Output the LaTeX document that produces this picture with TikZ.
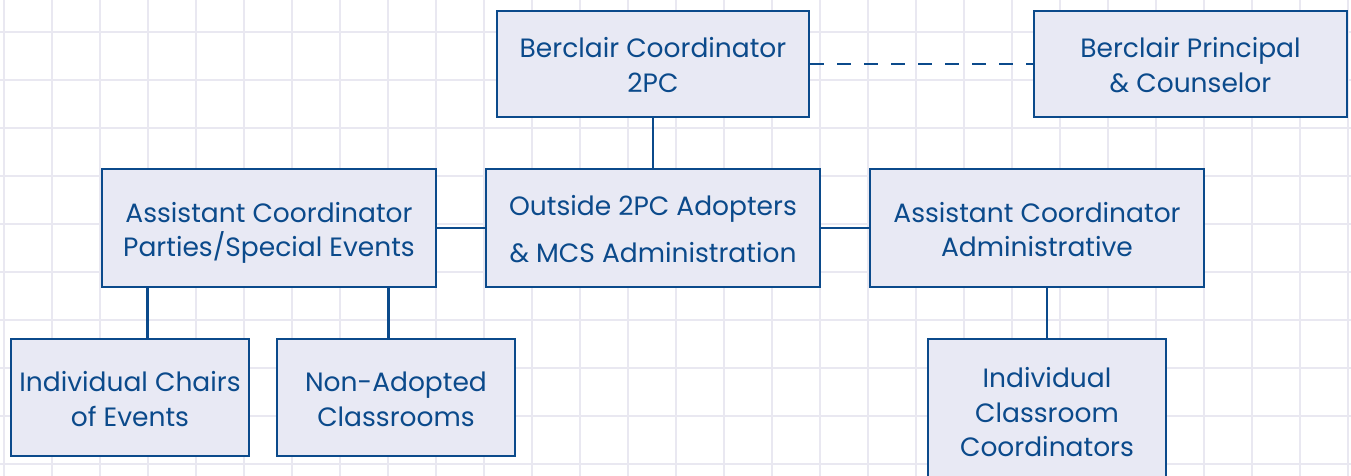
\documentclass[tikz,border=0pt]{standalone}
\usepackage{fontspec}
\setmainfont{Poppins}
\definecolor{navy}{HTML}{0B4A8B}
\definecolor{boxfill}{HTML}{E8E9F4}
\definecolor{gridgray}{HTML}{E9E8F1}
\newcommand{\rs}{\rule[-7pt]{0pt}{36.5pt}}
\newcommand{\rolefont}[1]{\fontsize{26.5}{#1}\selectfont\lineskiplimit=-50pt\relax}

\begin{document}
\begin{tikzpicture}[x=1pt, y=-1pt,
    role/.style={draw=navy, fill=boxfill, line width=2.6pt, text=navy, align=center,
        inner sep=0pt, font={\rolefont{34.5}}},
    link/.style={draw=navy, line width=2.6pt},
    gridline/.style={draw=gridgray, line width=2pt}]
    \useasboundingbox (0,0) rectangle (1351,476);
    \clip (0,0) rectangle (1351,476);
    % background grid
    \foreach \gx in {4,52,...,1348} \draw[gridline] (\gx,0) -- (\gx,476);
    \foreach \gy in {32,80,...,464} \draw[gridline] (0,\gy) -- (1351,\gy);
    % top row
    \node[role, minimum width=312pt, minimum height=106pt] (coord) at (653,64) {\rs Berclair Coordinator\\\rs 2PC};
    \node[role, minimum width=313pt, minimum height=106pt] (principal) at (1190.5,64) {\rs Berclair Principal\\\rs\& Counselor};
    % middle row
    \node[role, minimum width=334pt, minimum height=118pt] (parties) at (269,228) {\rs Assistant Coordinator\\\rs Parties/Special Events};
    \node[role, minimum width=334pt, minimum height=118pt, font={\rolefont{47}}] (outside) at (653,228) {\rs Outside 2PC Adopters\\\rs\& MCS Administration};
    \node[role, minimum width=334pt, minimum height=118pt] (admin) at (1037,228) {\rs Assistant Coordinator\\\rs Administrative};
    % bottom row
    \node[role, minimum width=238pt, minimum height=117pt] (chairs) at (130,397.5) {\rs Individual Chairs\\\rs of Events};
    \node[role, minimum width=238pt, minimum height=117pt] (nonadopted) at (396,397.5) {\rs Non-Adopted\\\rs Classrooms};
    \node[role, minimum width=238pt, minimum height=144pt] (classroom) at (1047,411) {\rs Individual\\\rs Classroom\\\rs Coordinators};
    % connectors
    \draw[link] (coord.south) -- (outside.north);
    \draw[link, dash pattern=on 14pt off 13pt] (coord.east) -- (principal.west);
    \draw[link] (parties.east) -- (outside.west);
    \draw[link] (outside.east) -- (admin.west);
    \draw[link] ([xshift=47pt]parties.south west) -- ([xshift=47pt]parties.south west |- chairs.north);
    \draw[link] ([xshift=-49pt]parties.south east) -- ([xshift=-49pt]parties.south east |- nonadopted.north);
    \draw[link] (classroom.north) -- (classroom.north |- admin.south);
\end{tikzpicture}
\end{document}
